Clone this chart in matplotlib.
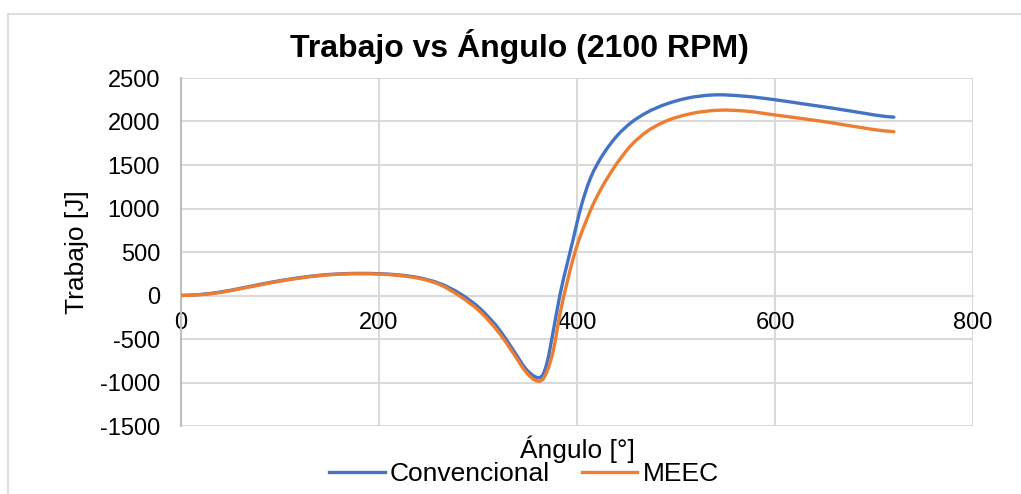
import matplotlib
matplotlib.use("Agg")
import matplotlib.pyplot as plt
from matplotlib.lines import Line2D
from matplotlib.path import Path
from matplotlib.patches import PathPatch
import numpy as np

# Work per crank angle, conventional cycle
angulo_conv = [0, 20, 40, 60, 80, 100, 120, 140, 160, 180, 200, 220, 240, 262,
               282, 302, 322, 336, 350, 358, 362, 366, 370, 376, 383, 390, 396,
               402, 408, 414, 420, 428, 440, 455, 470, 490, 510, 537, 570, 600,
               630, 660, 690, 710, 720]
trabajo_conv = [0, 12, 40, 82, 128, 170, 205, 232, 248, 254, 250, 236, 205, 135,
                20, -150, -400, -635, -865, -935, -945, -900, -760, -410, 20, 360,
                640, 930, 1170, 1360, 1500, 1650, 1830, 1990, 2100, 2200, 2265,
                2305, 2290, 2250, 2200, 2150, 2095, 2060, 2050]

# Work per crank angle, MEEC cycle
angulo_meec = [0, 20, 40, 60, 80, 100, 120, 140, 160, 180, 200, 220, 240, 262,
               282, 302, 322, 336, 350, 358, 362, 366, 370, 376, 383, 390, 396,
               402, 409, 416, 425, 438, 455, 470, 487, 515, 544, 570, 600, 630,
               660, 690, 710, 720]
trabajo_meec = [0, 10, 36, 78, 122, 165, 200, 228, 245, 250, 246, 230, 198, 122,
                -10, -185, -440, -670, -900, -975, -985, -955, -865, -635, -200,
                150, 420, 640, 850, 1040, 1240, 1480, 1730, 1880, 1990, 2090,
                2130, 2120, 2075, 2030, 1980, 1925, 1893, 1883]

x_ticks = [0, 200, 400, 600, 800]
y_ticks = [-1500, -1000, -500, 0, 500, 1000, 1500, 2000, 2500]

plt.rcParams['font.family'] = ['Liberation Sans', 'DejaVu Sans']
plt.rcParams['axes.unicode_minus'] = False

BLUE = '#4472C4'
ORANGE = '#ED7D31'
GRID = '#D9D9D9'


def smooth_path(xs, ys):
    """Cubic Hermite (smoothed line) path through the given points."""
    x = np.asarray(xs, float)
    y = np.asarray(ys, float)
    n = len(x)
    d = np.zeros(n)
    for i in range(n):
        if i == 0:
            d[i] = (y[1] - y[0]) / (x[1] - x[0])
        elif i == n - 1:
            d[i] = (y[-1] - y[-2]) / (x[-1] - x[-2])
        else:
            h0, h1 = x[i] - x[i - 1], x[i + 1] - x[i]
            s0 = (y[i] - y[i - 1]) / h0
            s1 = (y[i + 1] - y[i]) / h1
            d[i] = (h1 * s0 + h0 * s1) / (h0 + h1)
    verts = [(x[0], y[0])]
    codes = [Path.MOVETO]
    for i in range(n - 1):
        h = x[i + 1] - x[i]
        verts += [(x[i] + h / 3, y[i] + d[i] * h / 3),
                  (x[i + 1] - h / 3, y[i + 1] - d[i + 1] * h / 3),
                  (x[i + 1], y[i + 1])]
        codes += [Path.CURVE4] * 3
    return Path(verts, codes)


fig = plt.figure(figsize=(10.21, 4.94), dpi=100)
ax = fig.add_axes([181 / 1021, 1 - 426 / 494, 792 / 1021, 348 / 494])

for xs, ys, col, z in ((angulo_conv, trabajo_conv, BLUE, 3),
                       (angulo_meec, trabajo_meec, ORANGE, 4)):
    ax.add_patch(PathPatch(smooth_path(xs, ys), facecolor='none', edgecolor=col,
                           lw=2.4, capstyle='round', joinstyle='round', zorder=z))

ax.set_xlim(0, 800)
ax.set_ylim(-1500, 2500)
ax.set_xticks(x_ticks)
ax.set_yticks(y_ticks)
ax.grid(True, color=GRID, lw=1.5)
ax.set_axisbelow(True)

for side in ('top', 'right'):
    ax.spines[side].set_visible(False)
ax.spines['left'].set_color('#BFBFBF')
ax.spines['left'].set_linewidth(1.5)
ax.spines['bottom'].set_position(('data', 0))
ax.spines['bottom'].set_color(GRID)
ax.spines['bottom'].set_linewidth(1.5)

ax.tick_params(axis='both', length=0, labelsize=17, colors='#000000')
ax.tick_params(axis='y', pad=15)
ax.tick_params(axis='x', pad=12)

ax.set_ylabel('Trabajo [J]', fontsize=19)
ax.yaxis.label.set_va('center')
ax.yaxis.set_label_coords(-0.131, 0.5)
ax.set_xlabel('Ángulo [°]', fontsize=19)
ax.xaxis.label.set_va('center')
ax.xaxis.set_label_coords(0.5, -0.066)

fig.text(519 / 1021, 1 - 47 / 494, 'Trabajo vs Ángulo (2100 RPM)',
         fontsize=23, fontweight='bold', ha='center', va='center')

handles = [Line2D([], [], color=BLUE, lw=2.4),
           Line2D([], [], color=ORANGE, lw=2.4)]
fig.legend(handles, ['Convencional', 'MEEC'], loc='center',
           bbox_to_anchor=(524 / 1021, 1 - 474 / 494), ncol=2, frameon=False,
           fontsize=19, handlelength=2.1, handletextpad=0.2, columnspacing=1.2,
           borderpad=0, borderaxespad=0)

# chart area outline
fig.add_artist(Line2D([8 / 1021, 8 / 1021], [0, 1 - 14 / 494],
                      transform=fig.transFigure, color=GRID, lw=1.2))
fig.add_artist(Line2D([8 / 1021, 1], [1 - 14 / 494, 1 - 14 / 494],
                      transform=fig.transFigure, color=GRID, lw=1.2))

fig.savefig('out.png', dpi=100)
